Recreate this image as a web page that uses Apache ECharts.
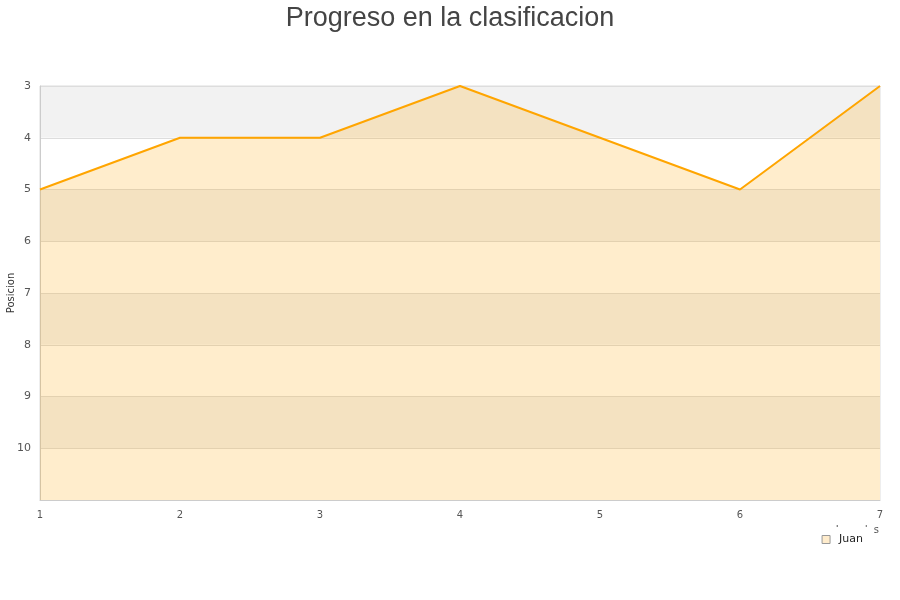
<!DOCTYPE html>
<html><head><meta charset="utf-8">
<script src="https://cdn.jsdelivr.net/npm/echarts@6/dist/echarts.min.js"></script>
<style>html,body{margin:0;padding:0;background:#fff}#c{width:900px;height:600px}</style>
</head><body><div id="c"></div>
<script>
const titleText = 'Progreso en la clasificacion';
const rounds = ['1','2','3','4','5','6','7'];
const seriesName = 'Juan';
const positions = [5, 4, 4, 3, 4, 5, 3];
const yAxisName = 'Posicion';
const xAxisName = 'Jornadas';

const chart = echarts.init(document.getElementById('c'));
chart.setOption({
  backgroundColor: '#fff',
  animation: false,
  title: {
    text: titleText, left: 'center', top: 0,
    textStyle: { fontFamily: 'Liberation Sans, Arial', fontSize: 27, fontWeight: 'normal', color: '#444' }
  },
  legend: {
    data: [{ name: seriesName, icon: 'rect' }],
    right: 26, top: 527,
    itemWidth: 8, itemHeight: 8, itemGap: 5,
    itemStyle: { color: '#ffeccc', borderColor: '#999', borderWidth: 1 },
    backgroundColor: '#fff', padding: [7, 11, 4, 6], z: 10,
    textStyle: { fontFamily: 'DejaVu Sans', fontSize: 11, color: '#222', padding: [0, 0, 0, 4] }
  },
  grid: { left: 40, right: 20, top: 86, bottom: 100, containLabel: false, outerBoundsMode: 'none', show: true, borderColor: '#ddd', borderWidth: 1 },
  xAxis: {
    type: 'category', data: rounds, boundaryGap: false,
    name: xAxisName, nameLocation: 'end', nameGap: 0,
    nameTextStyle: { fontFamily: 'DejaVu Sans', fontSize: 10, color: '#555', align: 'right', verticalAlign: 'top', padding: [25, 1, 0, 0] },
    axisLine: { lineStyle: { color: '#ccc' } }, axisTick: { show: false },
    axisLabel: { fontFamily: 'DejaVu Sans', fontSize: 10, color: '#555', margin: 10 },
    splitLine: { show: false }
  },
  yAxis: {
    type: 'value', inverse: true, min: 3, max: 11, interval: 1,
    name: yAxisName, nameLocation: 'middle', nameGap: 24, nameMoveOverlap: false,
    nameTextStyle: { fontFamily: 'DejaVu Sans', fontSize: 10, color: '#333' },
    axisLine: { show: true, lineStyle: { color: '#ccc' } }, axisTick: { show: false },
    axisLabel: { fontFamily: 'DejaVu Sans', fontSize: 11, color: '#555', margin: 9,
      formatter: v => (v === 11 ? '' : String(v)) },
    splitLine: { show: true, lineStyle: { color: '#ddd' } },
    splitArea: { show: true, areaStyle: { color: ['#f2f2f2', '#ffffff'] } }
  },
  series: [{
    name: seriesName, type: 'line', data: positions,
    showSymbol: false, symbol: 'none',
    lineStyle: { color: '#ffa500', width: 2 },
    itemStyle: { color: '#ffa500' },
    areaStyle: { color: 'rgba(255,165,0,0.2)', opacity: 1, origin: 'end' }
  }]
});
</script></body></html>
